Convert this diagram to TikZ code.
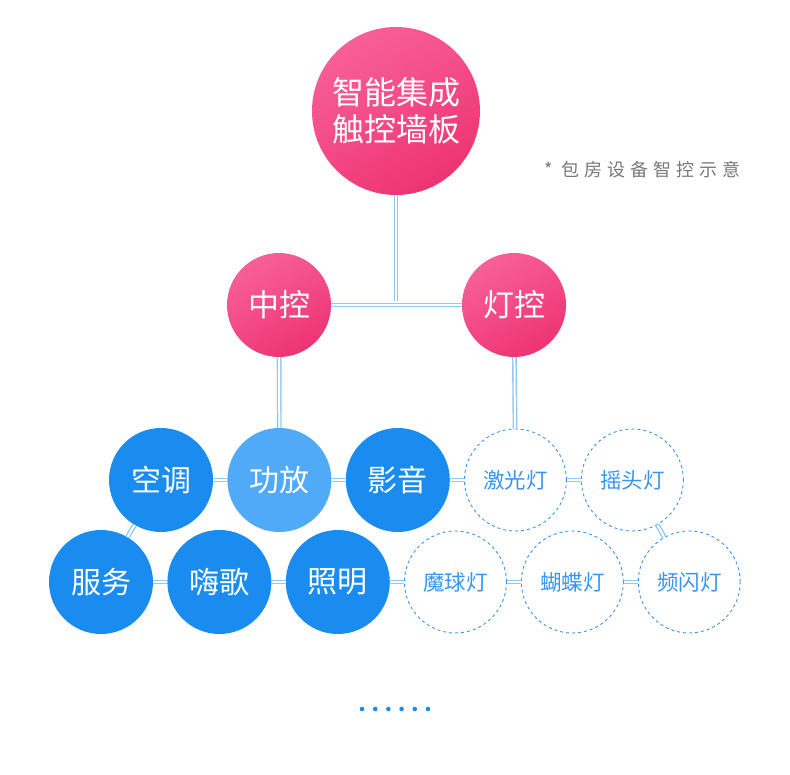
\documentclass[tikz,border=0pt]{standalone}
\usepackage{fontspec}
\usepackage{tikz}
\usetikzlibrary{positioning}
\newfontfamily\cjk{Noto Sans CJK SC}
\newfontfamily\cjkwide[LetterSpace=28]{Noto Sans CJK SC}
\definecolor{rosepink}{RGB}{238,52,115}
\definecolor{rosepale}{RGB}{248,96,150}
\definecolor{skyblue}{RGB}{26,140,240}
\definecolor{skypale}{RGB}{80,170,248}
\definecolor{dashblue}{RGB}{55,150,240}
\definecolor{linkblue}{RGB}{145,200,246}
\definecolor{notegray}{RGB}{120,120,120}
\tikzstyle{hub}=[circle, inner sep=0pt, text=white, font=\cjk\fontsize{31}{35}\selectfont, align=center,
                 shade, left color=rosepale, right color=rosepink, shading angle=30]
\tikzstyle{room}=[circle, minimum size=104pt, inner sep=0pt, text=white, font=\cjk\fontsize{30}{32}\selectfont,
                  fill=skyblue]
\tikzstyle{lamp}=[circle, minimum size=102pt, inner sep=0pt, text=dashblue, font=\cjk\fontsize{21.5}{24}\selectfont,
                  draw=dashblue, dashed, line width=0.9pt, fill=white]
\tikzstyle{link}=[draw=linkblue, line width=1.4pt, double=white, double distance=2pt]

\begin{document}
\begin{tikzpicture}[x=1pt, y=-1pt, node distance=14pt]
          \useasboundingbox[fill=white] (0,0) rectangle (790,775);

          % top of the tree
          \node[hub, minimum size=168pt, font=\cjk\fontsize{32}{37}\selectfont] (panel) at (396,111) {智能集成\\触控墙板};
          \node[hub, minimum size=104pt] (zk) at (279,305) {中控};
          \node[hub, minimum size=104pt] (dk) at (514,305) {灯控};
          \coordinate (fork) at (396,301);
          \node[font=\cjkwide\fontsize{18}{20}\selectfont, text=notegray, anchor=west, inner sep=0pt] (note) at (544,170) {*\ 包房设备智控示意};

          % first row
          \node[room] (kt) at (161,480) {空调};
          \node[room, fill=skypale] (gf) [right=of kt] {功放};
          \node[room] (yy) [right=of gf] {影音};
          \node[lamp] (jg) [right=of yy] {激光灯};
          \node[lamp] (yt) [right=of jg] {摇头灯};

          % second row
          \node[room] (fw) at (101,582) {服务};
          \node[room] (hg) [right=of fw] {嗨歌};
          \node[room] (zm) [right=of hg] {照明};
          \node[lamp] (mq) [right=of zm] {魔球灯};
          \node[lamp] (hd) [right=of mq] {蝴蝶灯};
          \node[lamp] (ps) [right=of hd] {频闪灯};

          \draw[link] (panel) -- (fork);
          \draw[link] (zk) -- (dk);
          \draw[link] (zk) -- (gf);
          \draw[link] (dk) -- (jg);
          \draw[link] (kt) -- (gf);
          \draw[link] (gf) -- (yy);
          \draw[link] (yy) -- (jg);
          \draw[link] (jg) -- (yt);
          \draw[link] (kt) -- (fw);
          \draw[link] (yt) -- (ps);
          \draw[link] (fw) -- (hg);
          \draw[link] (hg) -- (zm);
          \draw[link] (zm) -- (mq);
          \draw[link] (mq) -- (hd);
          \draw[link] (hd) -- (ps);

          \foreach \i in {0,...,5}
                \fill[skyblue] (362+13.2*\i,709) circle (2.3pt);
        \end{tikzpicture}
\end{document}
